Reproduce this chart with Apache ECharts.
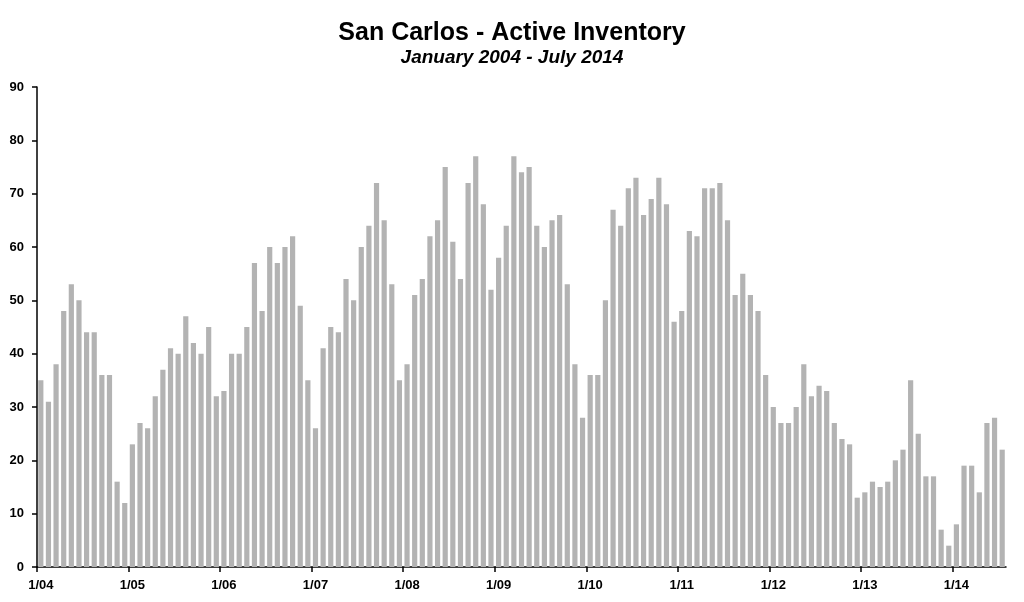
<!DOCTYPE html>
<html>
<head>
<meta charset="utf-8">
<script src="https://cdn.jsdelivr.net/npm/echarts@6/dist/echarts.min.js"></script>
<style>html,body{margin:0;padding:0;background:#fff}#c{width:1024px;height:602px}</style>
</head>
<body>
<div id="c"></div>
<script>
const years = ['04','05','06','07','08','09','10','11','12','13','14'];
const tickLabels = ['1/04','1/05','1/06','1/07','1/08','1/09','1/10','1/11','1/12','1/13','1/14'];
const v2004 = [35, 31, 38, 48, 53, 50, 44, 44, 36, 36, 16, 12];
const v2005 = [23, 27, 26, 32, 37, 41, 40, 47, 42, 40, 45, 32];
const v2006 = [33, 40, 40, 45, 57, 48, 60, 57, 60, 62, 49, 35];
const v2007 = [26, 41, 45, 44, 54, 50, 60, 64, 72, 65, 53, 35];
const v2008 = [38, 51, 54, 62, 65, 75, 61, 54, 72, 77, 68, 52];
const v2009 = [58, 64, 77, 74, 75, 64, 60, 65, 66, 53, 38, 28];
const v2010 = [36, 36, 50, 67, 64, 71, 73, 66, 69, 73, 68, 46];
const v2011 = [48, 63, 62, 71, 71, 72, 65, 51, 55, 51, 48, 36];
const v2012 = [30, 27, 27, 30, 38, 32, 34, 33, 27, 24, 23, 13];
const v2013 = [14, 16, 15, 16, 20, 22, 35, 25, 17, 17, 7, 4];
const v2014 = [8, 19, 19, 14, 27, 28, 22];

const values = [].concat(v2004, v2005, v2006, v2007, v2008, v2009, v2010, v2011, v2012, v2013, v2014);
const categories = [];
years.forEach(y => { for (let m = 1; m <= 12; m++) categories.push(m + '/' + y); });
categories.length = values.length;
const tickPos = tickLabels.map((_, i) => i * 12);
const labelPos = tickLabels.map((_, i) => i * 12 + 0.5);

const chart = echarts.init(document.getElementById('c'));
const font = '"Liberation Sans", Arial, sans-serif';
chart.setOption({
  animation: false,
  backgroundColor: '#fff',
  title: {
    text: 'San Carlos - Active Inventory',
    subtext: 'January 2004 - July 2014',
    left: 'center',
    top: 16,
    itemGap: 2,
    textStyle: { fontFamily: font, fontSize: 25, fontWeight: 'bold', color: '#000' },
    subtextStyle: { fontFamily: font, fontSize: 19, fontWeight: 'bold', fontStyle: 'italic', color: '#000' }
  },
  grid: { left: 37, right: 18, top: 87, bottom: 35, containLabel: false },
  xAxis: [
    {
      type: 'category',
      data: categories,
      show: false,
      boundaryGap: true
    },
    {
      type: 'value',
      min: 0,
      max: values.length,
      position: 'bottom',
      axisLine: { show: true, lineStyle: { color: '#000', width: 1.5 } },
      axisTick: { show: true, length: 5, customValues: tickPos, lineStyle: { color: '#000', width: 1.5 } },
      axisLabel: {
        customValues: labelPos,
        formatter: v => tickLabels[Math.floor(v / 12)] || '',
        fontFamily: font, fontSize: 13, fontWeight: 'bold', color: '#000', margin: 12
      },
      splitLine: { show: false }
    }
  ],
  yAxis: {
    type: 'value',
    min: 0,
    max: 90,
    interval: 10,
    axisLine: { show: true, lineStyle: { color: '#000', width: 1.5 } },
    axisTick: { show: true, length: 5, lineStyle: { color: '#000', width: 1.5 } },
    axisLabel: { fontFamily: font, fontSize: 13, fontWeight: 'bold', color: '#000', margin: 13 },
    splitLine: { show: false }
  },
  series: [{
    type: 'bar',
    xAxisIndex: 0,
    data: values,
    barCategoryGap: '32%',
    itemStyle: { color: '#b3b3b3' }
  }]
});
</script>
</body>
</html>
